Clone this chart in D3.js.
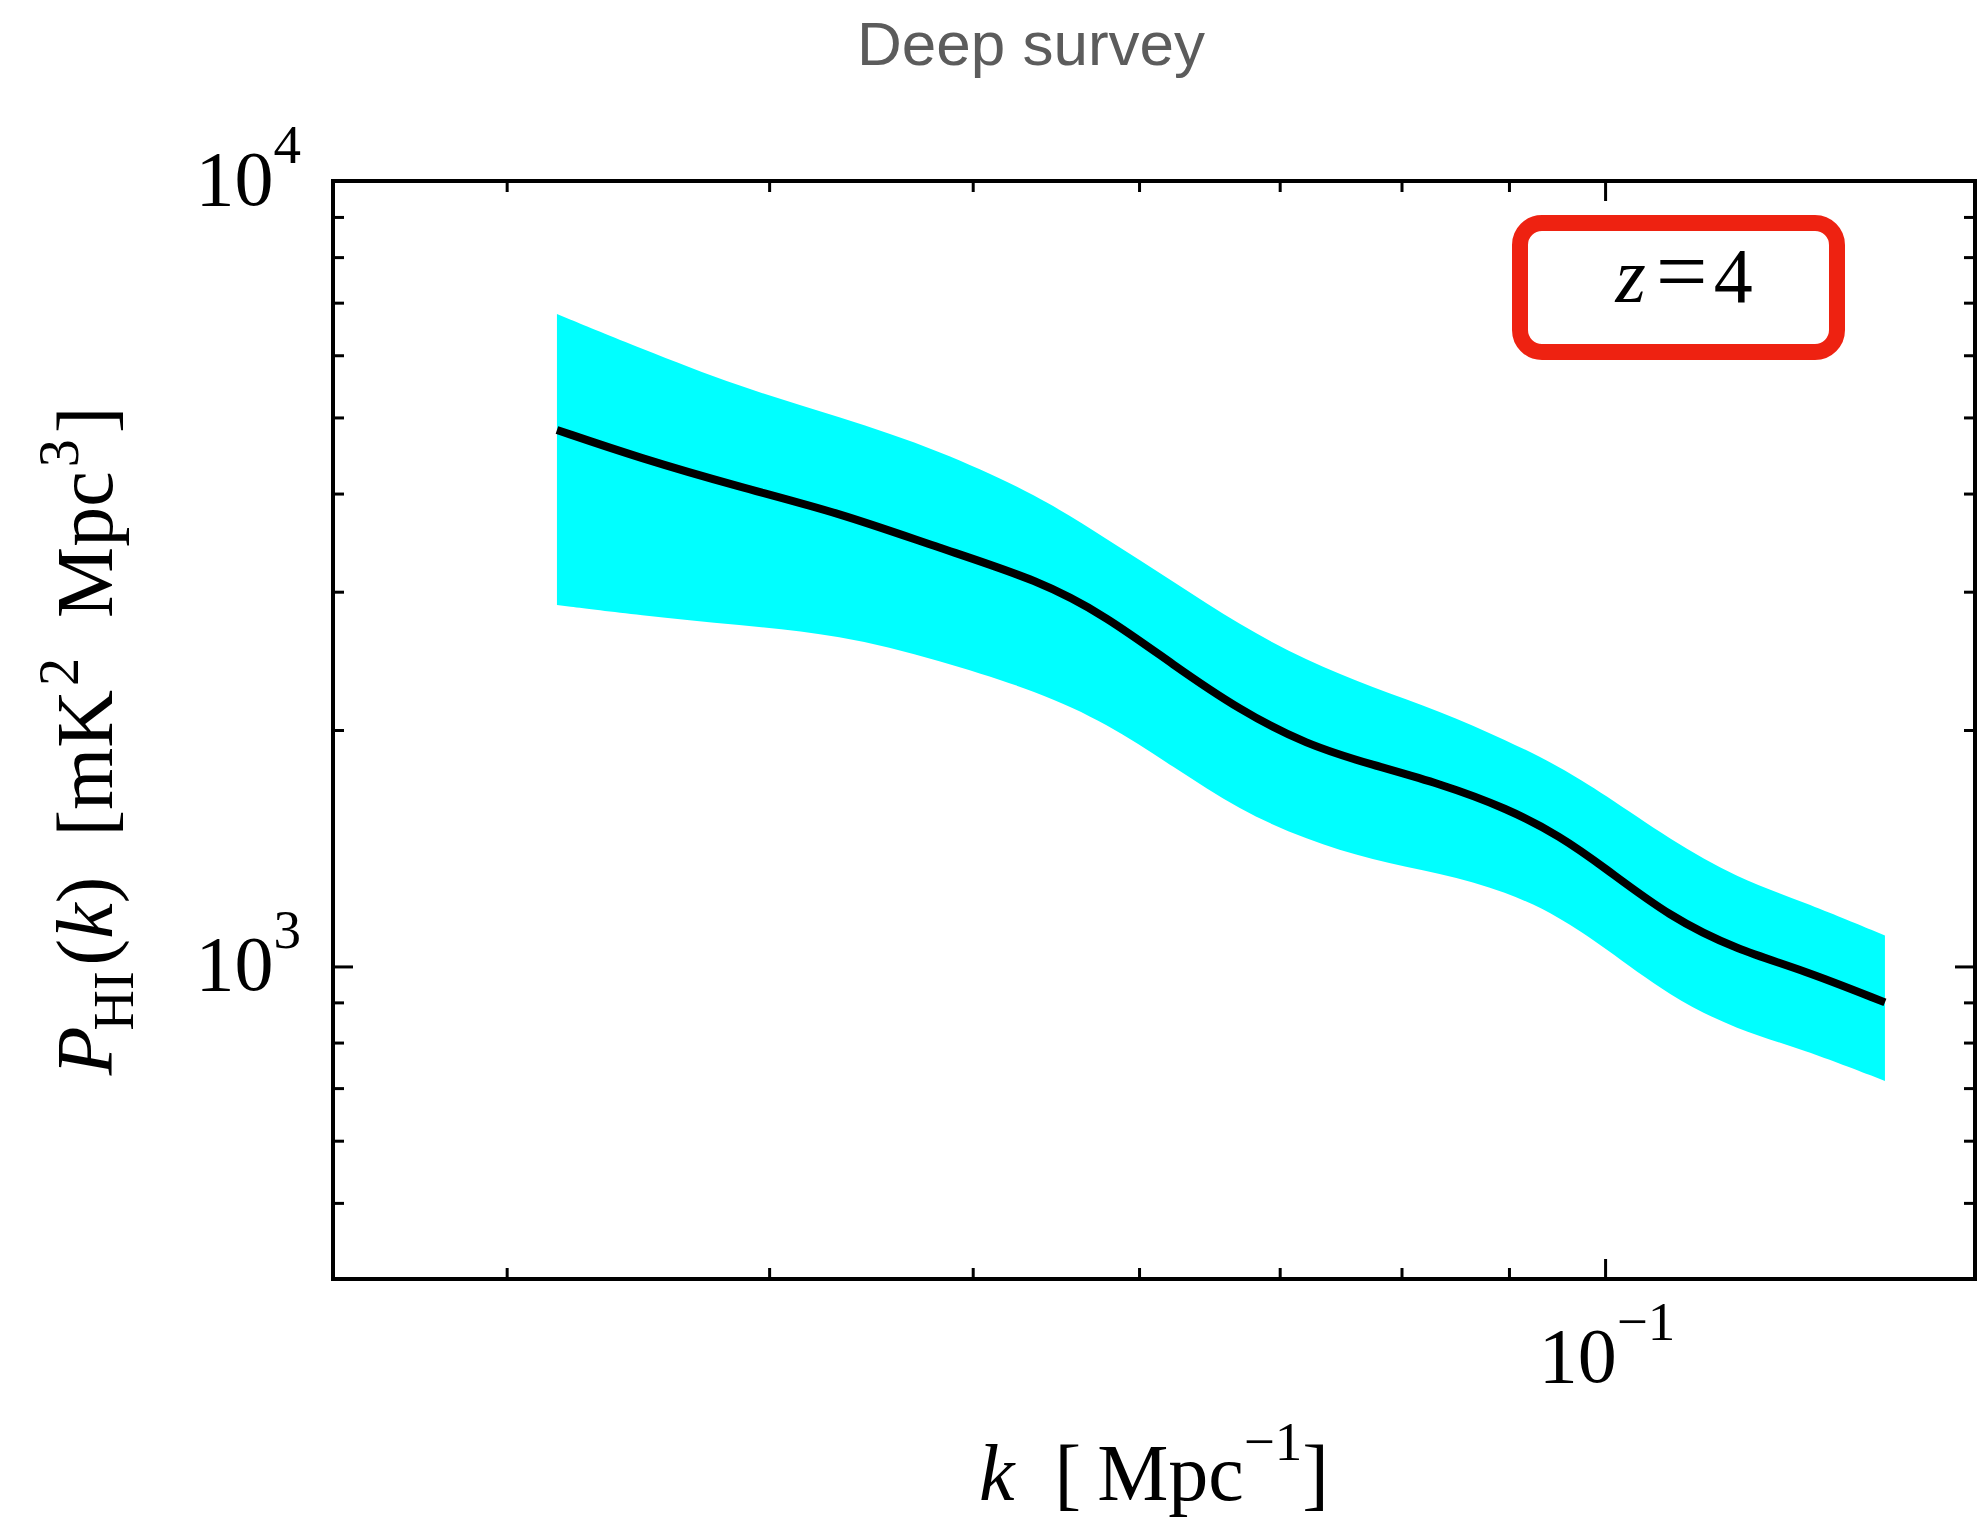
<!DOCTYPE html>
<html>
<head>
<meta charset="utf-8">
<script src="https://cdn.jsdelivr.net/npm/d3@7"></script>
<style>
  body { margin: 0; background: #fff; }
  svg { display: block; }
</style>
</head>
<body>
<script>
// HI power spectrum, deep survey, z = 4

const kValues = [0.0317, 0.0347, 0.0387, 0.0432, 0.0482, 0.0538, 0.0579, 0.0623, 0.0670, 0.0721,
                 0.0775, 0.0834, 0.0898, 0.0952, 0.0998, 0.1074, 0.1156, 0.1242, 0.1359];
const pMean  = [4820, 4440, 4080, 3780, 3410, 3100, 2790, 2420, 2120, 1915,
                1805, 1710, 1590, 1465, 1340, 1155, 1050, 990, 900];
const pUpper = [6770, 6130, 5470, 5010, 4545, 3970, 3500, 3090, 2720, 2450,
                2265, 2115, 1940, 1795, 1660, 1450, 1295, 1210, 1095];
const pLower = [2885, 2800, 2720, 2645, 2455, 2235, 2040, 1795, 1580, 1450,
                1365, 1315, 1245, 1155, 1060, 915, 830, 785, 715];

const xMajorTicks = [0.1];
const xMinorTicks = [0.03, 0.04, 0.05, 0.06, 0.07, 0.08, 0.09];
const yMajorTicks = [1000, 10000];
const yMinorTicks = [500, 600, 700, 800, 900, 2000, 3000, 4000, 5000, 6000, 7000, 8000, 9000];
const xTickExp = ["\u22121"];
const yTickExp = ["3", "4"];

const titleText = "Deep survey";
const redshiftText = "4";

const margin = {top: 181, right: 2, bottom: 244, left: 333},
    width = 1977 - margin.left - margin.right,
    height = 1523 - margin.top - margin.bottom;

const serif = "'Liberation Serif', 'Times New Roman', serif";

const svg = d3.select("body")
    .append("svg")
    .attr("width", 1977)
    .attr("height", 1523);

svg.append("rect").attr("width", 1977).attr("height", 1523).attr("fill", "#fff");

const g = svg.append("g")
    .attr("transform", `translate(${margin.left}, ${margin.top})`);

const x = d3.scaleLog().domain([0.0248, 0.150]).range([0, width]);
const y = d3.scaleLog().domain([400, 10000]).range([height, 0]);

const rows = kValues.map((k, i) => ({k: k, mid: pMean[i], hi: pUpper[i], lo: pLower[i]}));

// error band
const band = d3.area()
    .x(d => x(d.k))
    .y0(d => y(d.lo))
    .y1(d => y(d.hi))
    .curve(d3.curveBasis);

g.append("path")
    .datum(rows)
    .attr("d", band)
    .attr("fill", "#00ffff");

const line = d3.line()
    .x(d => x(d.k))
    .y(d => y(d.mid))
    .curve(d3.curveBasis);

g.append("path")
    .datum(rows)
    .attr("d", line)
    .attr("fill", "none")
    .attr("stroke", "#000")
    .attr("stroke-width", 8);

// ticks, all pointing inwards on four sides
function tickAxis(axis, vals, len, transform) {
    const a = g.append("g")
        .attr("transform", transform)
        .call(axis.tickValues(vals).tickSize(len).tickSizeOuter(0).tickFormat(""));
    a.select(".domain").remove();
    a.selectAll(".tick line").attr("stroke", "#000").attr("stroke-width", 3);
}
tickAxis(d3.axisBottom(x), xMinorTicks, -11, `translate(0, ${height})`);
tickAxis(d3.axisBottom(x), xMajorTicks, -20, `translate(0, ${height})`);
tickAxis(d3.axisTop(x), xMinorTicks, -11, "translate(0, 0)");
tickAxis(d3.axisTop(x), xMajorTicks, -20, "translate(0, 0)");
tickAxis(d3.axisLeft(y), yMinorTicks, -11, "translate(0, 0)");
tickAxis(d3.axisLeft(y), yMajorTicks, -20, "translate(0, 0)");
tickAxis(d3.axisRight(y), yMinorTicks, -11, `translate(${width}, 0)`);
tickAxis(d3.axisRight(y), yMajorTicks, -20, `translate(${width}, 0)`);

// frame
g.append("rect")
    .attr("width", width)
    .attr("height", height)
    .attr("fill", "none")
    .attr("stroke", "#000")
    .attr("stroke-width", 4);

// tick labels 10^n
function powerLabel(sel, exp) {
    sel.append("tspan").text("10");
    sel.append("tspan").attr("dy", -42).attr("font-size", 55).text(exp);
}

xMajorTicks.forEach((v, i) => {
    g.append("text")
        .attr("x", x(v) + 2)
        .attr("y", height + 103)
        .attr("text-anchor", "middle")
        .attr("font-family", serif)
        .attr("font-size", 78)
        .call(powerLabel, xTickExp[i]);
});

yMajorTicks.forEach((v, i) => {
    g.append("text")
        .attr("x", -32)
        .attr("y", y(v) + 24)
        .attr("text-anchor", "end")
        .attr("font-family", serif)
        .attr("font-size", 78)
        .call(powerLabel, yTickExp[i]);
});

// x axis title: k [Mpc^-1]
const xt = svg.append("text")
    .attr("x", margin.left + width / 2)
    .attr("y", 1500)
    .attr("text-anchor", "middle")
    .attr("font-family", serif)
    .attr("font-size", 80);
xt.append("tspan").attr("font-style", "italic").text("k");
xt.append("tspan").text("\u2002[\u2009Mpc");
xt.append("tspan").attr("dy", -40).attr("font-size", 55).text("\u22121");
xt.append("tspan").attr("dy", 40).text("]");

// y axis title: P_HI(k) [mK^2 Mpc^3]
const yt = svg.append("text")
    .attr("transform", "translate(112, 741) rotate(-90)")
    .attr("text-anchor", "middle")
    .attr("font-family", serif)
    .attr("font-size", 80);
yt.append("tspan").attr("font-style", "italic").text("P");
yt.append("tspan").attr("dy", 21).attr("dx", -4).attr("font-size", 56).text("HI");
yt.append("tspan").attr("dy", -21).attr("dx", 6).text("(");
yt.append("tspan").attr("font-style", "italic").text("k");
yt.append("tspan").text(")\u2002[mK");
yt.append("tspan").attr("dy", -34).attr("dx", 4).attr("font-size", 56).text("2");
yt.append("tspan").attr("dy", 34).text("\u2002Mpc");
yt.append("tspan").attr("dy", -34).attr("dx", 4).attr("font-size", 56).text("3");
yt.append("tspan").attr("dy", 34).attr("dx", 6).text("]");

// redshift box
g.append("rect")
    .attr("x", 1520 - margin.left)
    .attr("y", 223 - margin.top)
    .attr("width", 317)
    .attr("height", 129)
    .attr("rx", 22)
    .attr("fill", "none")
    .attr("stroke", "#ee2211")
    .attr("stroke-width", 16);

const zt = g.append("text")
    .attr("x", 1684 - margin.left)
    .attr("y", 302 - margin.top)
    .attr("text-anchor", "middle")
    .attr("font-family", serif)
    .attr("font-size", 78);
zt.append("tspan").attr("font-style", "italic").text("z");
zt.append("tspan").attr("dx", 10).attr("font-size", 92).text("=");
zt.append("tspan").attr("dx", 6).text(redshiftText);

// title
svg.append("text")
    .attr("x", 1031)
    .attr("y", 65)
    .attr("text-anchor", "middle")
    .attr("font-family", "'Liberation Sans', Arial, Helvetica, sans-serif")
    .attr("font-size", 62)
    .attr("fill", "#5c5c5c")
    .text(titleText);
</script>
</body>
</html>
